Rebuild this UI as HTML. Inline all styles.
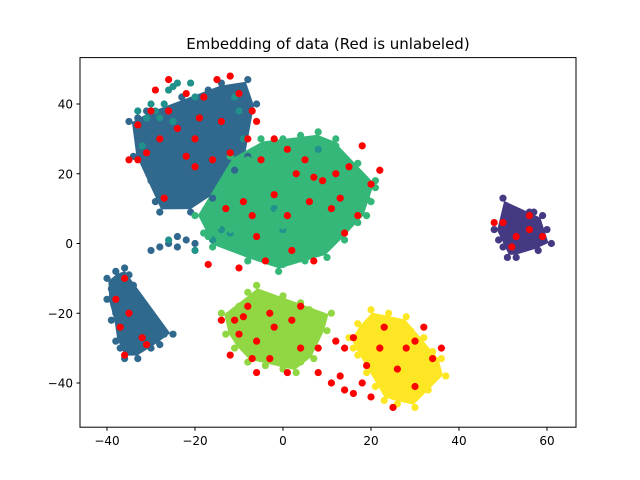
<!DOCTYPE html>
<html><head><meta charset="utf-8"><style>
html,body{margin:0;padding:0;background:#fff;}
svg{display:block;font-family:"DejaVu Sans","Liberation Sans",sans-serif;}
</style></head><body>
<svg id="chart" width="640" height="480">
<rect width="640" height="480" fill="#fff"/>
<text x="328" y="49" text-anchor="middle" font-size="15" fill="#000">Embedding of data (Red is unlabeled)</text>
<g id="hulls"></g><g id="pts"></g>
<rect x="80" y="57.6" width="496" height="369.6" fill="none" stroke="#000" stroke-width="1"/>
<g id="axes"></g>
</svg>
<script>
const xTicks=[-40,-20,0,20,40,60];
const yTicks=[-40,-20,0,20,40];
const blueTop=[[-33,36],[-31,38],[-29,34],[-27,37],[-25,33],[-23,36],[-21,38],[-19,35],[-17,37],[-15,40],[-13,38],[-11,36],[-9,33],[-10,28],[-12,30],[-14,27],[-16,30],[-18,32],[-20,29],[-22,31],[-24,28],[-26,30],[-28,27],[-30,29],[-32,31],[-34,25],[-31,22],[-29,19],[-27,17],[-25,20],[-23,22],[-21,24],[-19,21],[-17,19],[-15,22],[-13,24],[-11,21],[-24,15],[-22,12],[-20,14],[-18,16],[-26,11],[-28,9],[-16,13],[-21,9],[-30,18],[-17,44],[-14,46],[-10,45],[-8,47],[-6,40],[-8,25],[-19,41],[-23,42],[-33,33],[-35,35],[-29,12],[-27,23],[-13,33],[-9,40]];
const blueTail=[[-24,2],[-22,1],[-26,0],[-20,0],[-28,-1],[-30,-2],[-24,-1]];
const blueLow=[[-40,-10],[-38,-8],[-36,-7],[-35,-9],[-39,-13],[-37,-12],[-34,-12],[-40,-16],[-37,-16],[-35,-18],[-38,-20],[-36,-22],[-34,-20],[-37,-25],[-35,-27],[-33,-25],[-31,-26],[-29,-27],[-27,-26],[-37,-30],[-34,-31],[-32,-30],[-30,-30],[-36,-33],[-33,-33],[-38,-28],[-28,-29],[-25,-26],[-39,-22]];
const teal=[[-33,38],[-31,36],[-29,38],[-27,40],[-25,45],[-24,46],[-26,44],[-28,36],[-25,35],[-21,46],[-20,42],[-30,40],[-10,38],[-9,30],[-11,42],[-18,3],[-16,1],[-14,4],[-2,10],[0,4],[-12,3],[-20,-2],[8,27],[-26,1],[-32,28]];
const green=[[0,30],[4,31],[8,32],[12,30],[-2,28],[6,28],[-8,24],[-4,26],[0,25],[3,27],[7,25],[10,26],[14,24],[17,23],[12,28],[-12,19],[-9,21],[-6,20],[-3,22],[0,20],[4,21],[8,22],[11,19],[15,20],[18,19],[21,18],[-1,17],[-15,15],[-11,14],[-7,16],[-4,14],[-1,15],[2,16],[6,15],[9,14],[13,16],[16,14],[19,13],[21,16],[-16,10],[-13,8],[-10,11],[-7,9],[-4,11],[-1,9],[3,11],[6,8],[9,11],[12,9],[16,10],[19,8],[-18,3],[-15,5],[-12,4],[-9,6],[-6,4],[-3,6],[0,5],[4,3],[7,6],[10,4],[14,5],[17,6],[-16,-1],[-13,1],[-10,-2],[-7,0],[-4,-1],[-1,1],[2,-2],[5,1],[8,-1],[11,2],[14,1],[-8,-5],[0,-6],[5,-5],[10,-4],[-17,2],[-12,25],[-20,8],[20,12],[-5,30],[-1,-8]];
const lightGreen=[[-8,-14],[-4,-16],[0,-15],[4,-17],[-10,-18],[-6,-19],[-2,-18],[2,-20],[6,-19],[8,-22],[-12,-22],[-8,-23],[-4,-22],[0,-24],[4,-23],[7,-26],[-13,-26],[-9,-27],[-5,-26],[-1,-28],[3,-27],[6,-30],[-11,-30],[-7,-31],[-3,-30],[1,-32],[4,-34],[-8,-34],[-4,-35],[0,-36],[3,-37],[-14,-20],[10,-25],[11,-20],[-6,-12],[7,-33]];
const yellow=[[20,-19],[24,-20],[28,-21],[17,-23],[21,-24],[25,-24],[29,-25],[32,-27],[15,-27],[19,-28],[23,-28],[27,-29],[31,-30],[34,-31],[17,-32],[21,-33],[25,-32],[29,-34],[33,-35],[36,-33],[19,-37],[23,-36],[27,-38],[31,-39],[35,-38],[21,-41],[25,-42],[29,-43],[33,-42],[26,-46],[30,-47],[23,-45],[37,-38],[16,-30]];
const purple=[[48,4],[50,6],[52,7],[54,8],[56,9],[58,6],[60,4],[61,0],[59,1],[57,3],[55,4],[53,3],[51,2],[49,1],[50,-1],[52,-2],[54,-1],[56,0],[58,-2],[53,-4],[51,-4],[55,6],[57,9],[50,13],[52,5],[59,8]];
const red=[[-29,44],[-26,47],[-22,43],[-18,42],[-15,47],[-12,48],[-10,43],[-7,38],[-6,35],[-30,38],[-33,34],[-35,24],[-24,33],[-20,30],[-14,35],[-12,26],[-26,38],[-19,36],[-8,30],[-5,24],[-2,30],[1,27],[5,24],[9,18],[12,20],[15,22],[18,28],[20,17],[22,21],[3,20],[-2,14],[-9,12],[6,12],[11,10],[17,8],[-4,-5],[2,-2],[7,-5],[-10,-7],[-7,8],[14,3],[-13,10],[-20,22],[-31,26],[50,6],[53,2],[56,4],[59,2],[52,-1],[56,8],[48,6],[-36,-10],[-38,-16],[-35,-20],[-32,-27],[-36,-32],[-31,-29],[-37,-24],[-14,-22],[-10,-26],[-6,-28],[-2,-24],[2,-22],[-8,-18],[4,-30],[-3,-33],[1,-37],[-6,-37],[-12,-32],[4,-18],[8,-30],[-9,-21],[13,-38],[14,-42],[16,-43],[19,-35],[22,-30],[26,-36],[28,-30],[32,-24],[34,-33],[30,-41],[25,-47],[20,-44],[16,-27],[12,-28],[36,-30],[14,-30],[8,-37],[11,-40],[-28,30],[-22,25],[-16,24],[-27,13],[-33,24],[7,19],[13,13],[-6,2],[1,8],[-17,-6],[-11,-22],[-3,-20],[-7,-33],[23,-24],[30,-28],[18,-40]];

const NS="http://www.w3.org/2000/svg";
const X=v=>283+v*4.4;
const Y=v=>243.5-v*3.4875;
const hullG=document.getElementById('hulls'),ptG=document.getElementById('pts'),axG=document.getElementById('axes');
function hull(pts){
  const p=pts.map(a=>[X(a[0]),Y(a[1])]).sort((a,b)=>a[0]-b[0]||a[1]-b[1]);
  const cr=(o,a,b)=>(a[0]-o[0])*(b[1]-o[1])-(a[1]-o[1])*(b[0]-o[0]);
  const lo=[],up=[];
  for(const q of p){while(lo.length>=2&&cr(lo[lo.length-2],lo[lo.length-1],q)<=0)lo.pop();lo.push(q);}
  for(const q of p.slice().reverse()){while(up.length>=2&&cr(up[up.length-2],up[up.length-1],q)<=0)up.pop();up.push(q);}
  const h=lo.slice(0,-1).concat(up.slice(0,-1));
  const cx=h.reduce((s,q)=>s+q[0],0)/h.length,cy=h.reduce((s,q)=>s+q[1],0)/h.length;
  return h.map(q=>{const dx=q[0]-cx,dy=q[1]-cy,d=Math.hypot(dx,dy)||1;return [q[0]-dx/d*3,q[1]-dy/d*3];});
}
const groups=[[blueTop,'#31688e','blue-top'],[blueLow,'#30698e','blue-low'],[green,'#35b779','green'],[lightGreen,'#90d743','light-green'],[yellow,'#fde725','yellow'],[purple,'#443983','purple']];
for(const [pts,col,nm] of groups){
  const h=hull(pts);
  const pg=document.createElementNS(NS,'polygon');
  pg.setAttribute('points',h.map(q=>q.join(',')).join(' '));
  pg.setAttribute('fill',col);
  
  
  hullG.appendChild(pg);
}
const series=[[blueTop,'#31688e','blue-point'],[blueTail,'#31688e','blue-point'],[blueLow,'#30698e','blue-point'],[teal,'#21918c','teal-point'],[green,'#35b779','green-point'],[lightGreen,'#90d743','light-green-point'],[yellow,'#fde725','yellow-point'],[purple,'#443983','purple-point'],[red,'#ff0000','unlabeled-point']];
for(const [pts,col,nm] of series){
  for(const p of pts){
    const c=document.createElementNS(NS,'circle');
    c.setAttribute('cx',X(p[0]));c.setAttribute('cy',Y(p[1]));c.setAttribute('r',3.6);c.setAttribute('fill',col);
    
    
    ptG.appendChild(c);
  }
}
for(const t of xTicks){
  const l=document.createElementNS(NS,'line');
  l.setAttribute('x1',X(t));l.setAttribute('x2',X(t));l.setAttribute('y1',427.2);l.setAttribute('y2',430.7);l.setAttribute('stroke','#000');
  
  
  axG.appendChild(l);
  const tx=document.createElementNS(NS,'text');
  tx.setAttribute('x',X(t));tx.setAttribute('y',445);tx.setAttribute('text-anchor','middle');tx.setAttribute('font-size','12');
  tx.textContent=(t<0?'\u2212'+(-t):t);
  
  
  axG.appendChild(tx);
}
for(const t of yTicks){
  const l=document.createElementNS(NS,'line');
  l.setAttribute('x1',76.5);l.setAttribute('x2',80);l.setAttribute('y1',Y(t));l.setAttribute('y2',Y(t));l.setAttribute('stroke','#000');
  
  
  axG.appendChild(l);
  const tx=document.createElementNS(NS,'text');
  tx.setAttribute('x',73);tx.setAttribute('y',Y(t)+4.5);tx.setAttribute('text-anchor','end');tx.setAttribute('font-size','12');
  tx.textContent=(t<0?'\u2212'+(-t):t);
  
  
  axG.appendChild(tx);
}
</script>
</body></html>
